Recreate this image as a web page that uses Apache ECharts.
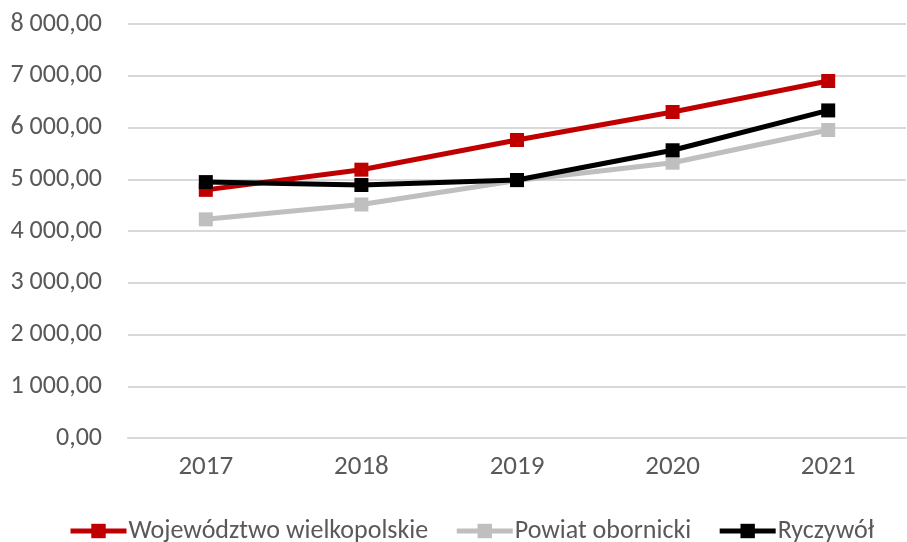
<!DOCTYPE html>
<html>
<head>
<meta charset="utf-8">
<script src="https://cdn.jsdelivr.net/npm/echarts@6/dist/echarts.min.js"></script>
<style>
  html, body { margin: 0; padding: 0; background: #fff; }
  #chart { width: 907px; height: 542px; }
</style>
</head>
<body>
<div id="chart"></div>
<script>
let years = ["2017", "2018", "2019", "2020", "2021"];
let wojewodztwo = [4795, 5185, 5758, 6300, 6899];
let powiat = [4225, 4512, 4975, 5320, 5952];
let ryczywol = [4945, 4889, 4986, 5560, 6330];

let font = "Carlito, Lato, sans-serif";

// 8000 -> "8 000,00"
let fmt = function (v) {
  let s = v.toFixed(2).replace(".", ",");
  let parts = s.split(",");
  parts[0] = parts[0].replace(/\B(?=(\d{3})+(?!\d))/g, " ");
  return parts.join(",");
};

let mkSeries = function (name, data, color) {
  return {
    name: name,
    type: "line",
    data: data,
    symbol: "rect",
    symbolSize: 14,
    lineStyle: { color: color, width: 5 },
    itemStyle: { color: color },
    emphasis: { disabled: true },
  };
};

var myChart = echarts.init(document.getElementById("chart"));

var option = {
  animation: false,
  grid: { left: 128, right: 1, top: 24, bottom: 104 },
  legend: {
    top: 513,
    left: 63,
    itemWidth: 56,
    itemHeight: 18,
    itemGap: 26,
    lineStyle: { width: 5 },
    textStyle: { color: "#595959", fontSize: 26, fontFamily: font, padding: [0, 0, 0, -3] },
    data: ["Województwo wielkopolskie", "Powiat obornicki", "Ryczywół"],
  },
  xAxis: {
    type: "category",
    data: years,
    axisLine: { lineStyle: { color: "#d9d9d9", width: 2 } },
    axisTick: { show: false },
    axisLabel: { color: "#595959", fontSize: 27, fontFamily: font, margin: 16 },
  },
  yAxis: {
    type: "value",
    min: 0,
    max: 8000,
    interval: 1000,
    axisLine: { show: false },
    axisTick: { show: false },
    splitLine: { lineStyle: { color: "#d9d9d9", width: 2 } },
    axisLabel: { color: "#595959", fontSize: 26, fontFamily: font, margin: 26, formatter: fmt },
  },
  series: [
    mkSeries("Województwo wielkopolskie", wojewodztwo, "#c00000"),
    mkSeries("Powiat obornicki", powiat, "#bfbfbf"),
    mkSeries("Ryczywół", ryczywol, "#000000"),
  ],
};

option && myChart.setOption(option);
</script>
</body>
</html>
